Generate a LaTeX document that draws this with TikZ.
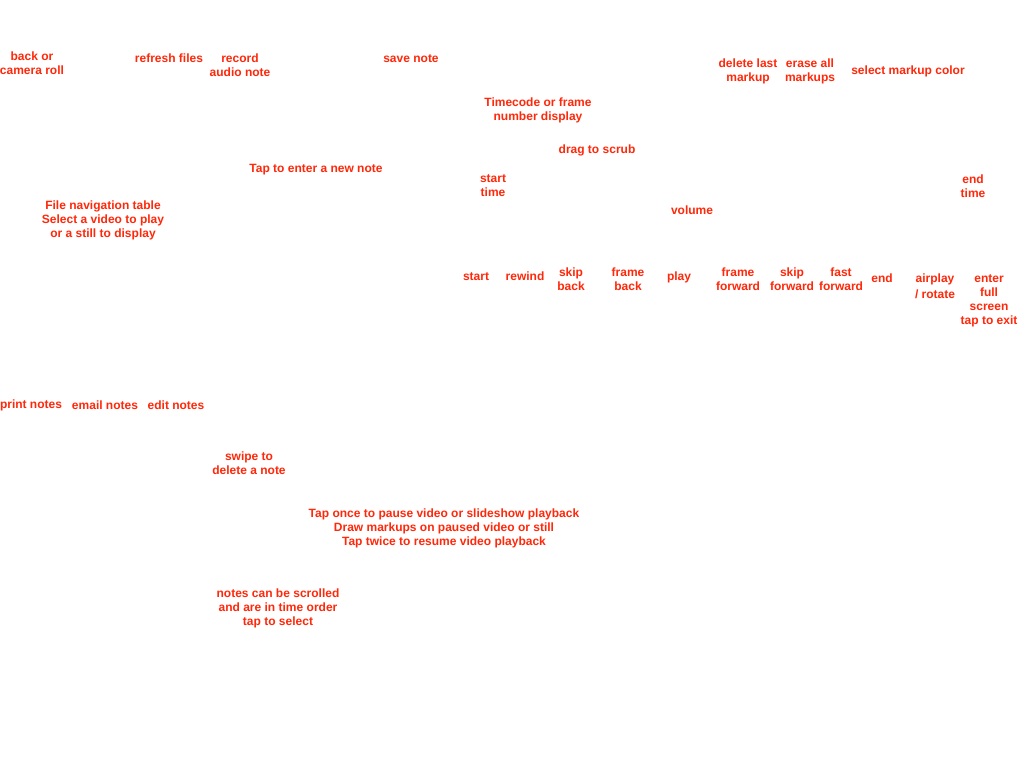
\documentclass[tikz,border=0pt]{standalone}
\usepackage{fontspec}
\setmainfont{Liberation Sans}
\definecolor{notered}{RGB}{255,40,10}
\tikzset{lbl/.style={text=notered,font=\fontsize{12}{14}\selectfont\bfseries,align=center,inner sep=0pt,yshift=-0.5pt}}

\begin{document}
\begin{tikzpicture}[x=1pt,y=-1pt]
      \useasboundingbox[fill=white] (0,0) rectangle (1024,768);

      \node[lbl] (back) at (32,63) {back or\\camera roll};
      \node[lbl] (refresh) at (169,58) {refresh files};
      \node[lbl] (record) at (240,65) {record\\audio note};
      \node[lbl] (save) at (411,58) {save note};
      \node[lbl] (dellast) at (748,71) {delete last\\markup};
      \node[lbl] (eraseall) at (810,71) {erase all\\markups};
      \node[lbl] (color) at (908,71) {select markup color};
      \node[lbl] (timecode) at (538,110) {Timecode or frame\\number display};
      \node[lbl] (scrub) at (597,150) {drag to scrub};
      \node[lbl] (newnote) at (316,169) {Tap to enter a new note};
      \node[lbl] (starttime) at (493,185) {start\\time};
      \node[lbl] (endtime) at (973,186) {end\\time};
      \node[lbl] (filenav) at (103,220) {File navigation table\\Select a video to play\\or a still to display};
      \node[lbl] (volume) at (692,210) {volume};

      \node[lbl] (start) at (476,276) {start};
      \node[lbl] (rewind) at (525,276) {rewind};
      \node[lbl] (skipback) at (571,279) {skip\\back};
      \node[lbl] (frameback) at (628,279) {frame\\back};
      \node[lbl] (play) at (679,277) {play};
      \node[lbl] (framefwd) at (738,279) {frame\\forward};
      \node[lbl] (skipfwd) at (792,279) {skip\\forward};
      \node[lbl] (fastfwd) at (841,279) {fast\\forward};
      \node[lbl] (end) at (882,278) {end};
      \node[lbl,font=\fontsize{12}{16}\selectfont\bfseries] (airplay) at (935,286) {airplay\\/ rotate};
      \node[lbl] (fullscreen) at (989,300) {enter\\full\\screen\\tap to exit};

      \node[lbl] (print) at (31,405) {print notes};
      \node[lbl] (email) at (105,405) {email notes};
      \node[lbl] (edit) at (176,405) {edit notes};
      \node[lbl] (swipe) at (249,463) {swipe to\\delete a note};
      \node[lbl] (tapvideo) at (444,528) {Tap once to pause video or slideshow playback\\Draw markups on paused video or still\\Tap twice to resume video playback};
      \node[lbl] (scrolled) at (278,608) {notes can be scrolled\\and are in time order\\tap to select};
    \end{tikzpicture}
\end{document}
